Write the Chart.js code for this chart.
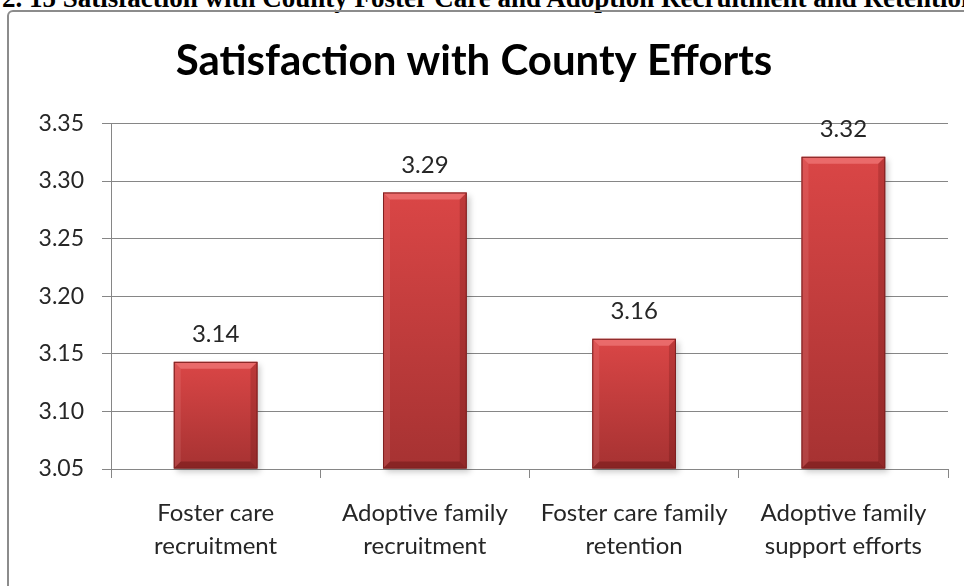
<!DOCTYPE html>
<html>
<head>
<meta charset="utf-8">
<script src="https://cdn.jsdelivr.net/npm/chart.js@4.4.0/dist/chart.umd.min.js"></script>
<style>
  html, body { margin: 0; padding: 0; background: #fff; width: 964px; height: 586px; overflow: hidden; }
  #caption { position: absolute; left: 2px; top: -15px; font: bold 27px "Liberation Serif", "Times New Roman", serif; line-height: 1; white-space: nowrap; color: #000; }
  #frame { position: absolute; left: 7px; top: 10px; width: 990px; height: 620px; border: 2px solid #8c8c8c; border-radius: 6px; box-sizing: border-box; }
  #wrap { position: absolute; left: 0; top: 0; width: 964px; height: 586px; }
</style>
</head>
<body>
<div id="caption">2. 15 Satisfaction with County Foster Care and Adoption Recruitment and Retention</div>
<div id="frame"></div>
<div id="wrap"><canvas id="chart" width="964" height="586"></canvas></div>
<script>
// Survey categories (two-line labels) and mean satisfaction scores
const categories = [
  ["Foster care", "recruitment"],
  ["Adoptive family", "recruitment"],
  ["Foster care family", "retention"],
  ["Adoptive family", "support efforts"]
];
const satisfaction = [3.143, 3.290, 3.163, 3.321];
const axisMin = 3.05;
const axisMax = 3.35;
const axisStep = 0.05;
const chartTitle = "Satisfaction with County Efforts";

const FONT = "Lato, 'Open Sans', sans-serif";

// Vertical red gradient per bar, lighter at the top
function barFill(ctx) {
  const chart = ctx.chart;
  const y = chart.scales.y;
  if (!y || ctx.raw === undefined) return '#c43c3c';
  const top = y.getPixelForValue(ctx.raw);
  const bottom = y.getPixelForValue(axisMin);
  if (!isFinite(top) || !isFinite(bottom) || bottom <= top) return '#c43c3c';
  const g = chart.ctx.createLinearGradient(0, top, 0, bottom);
  g.addColorStop(0, '#da4646');
  g.addColorStop(1, '#a63232');
  return g;
}

// Soft shadow behind bars and a bevelled edge on top of them
const bevelPlugin = {
  id: 'bevel',
  beforeDatasetsDraw(chart) {
    const ctx = chart.ctx;
    ctx.save();
    chart.getDatasetMeta(0).data.forEach(bar => {
      const l = bar.x - bar.width / 2, r = bar.x + bar.width / 2;
      ctx.shadowColor = 'rgba(0,0,0,0.35)';
      ctx.shadowBlur = 6;
      ctx.shadowOffsetX = 3;
      ctx.shadowOffsetY = 3;
      ctx.fillStyle = 'rgba(120,120,120,0.6)';
      ctx.fillRect(l, bar.y, r - l, bar.base - bar.y);
    });
    ctx.restore();
  },
  afterDatasetsDraw(chart) {
    const ctx = chart.ctx;
    const b = 7;
    ctx.save();
    chart.getDatasetMeta(0).data.forEach(bar => {
      const l = bar.x - bar.width / 2, r = bar.x + bar.width / 2;
      const t = bar.y, btm = bar.base;
      const face = (pts, col) => {
        ctx.beginPath();
        ctx.moveTo(pts[0][0], pts[0][1]);
        for (let i = 1; i < pts.length; i++) ctx.lineTo(pts[i][0], pts[i][1]);
        ctx.closePath();
        ctx.fillStyle = col;
        ctx.fill();
      };
      face([[l, t], [r, t], [r - b, t + b], [l + b, t + b]], 'rgba(255,150,150,0.45)');
      face([[l, t], [l + b, t + b], [l + b, btm - b], [l, btm]], 'rgba(255,200,200,0.12)');
      face([[r, t], [r, btm], [r - b, btm - b], [r - b, t + b]], 'rgba(60,0,0,0.18)');
      face([[l, btm], [l + b, btm - b], [r - b, btm - b], [r, btm]], 'rgba(60,0,0,0.28)');
      ctx.strokeStyle = '#7e2020';
      ctx.lineWidth = 1;
      ctx.strokeRect(l + 0.5, t + 0.5, r - l - 1, btm - t - 1);
    });
    ctx.restore();
  }
};

// Value labels above each bar
const valueLabels = {
  id: 'valueLabels',
  afterDatasetsDraw(chart) {
    const ctx = chart.ctx;
    const ds = chart.data.datasets[0];
    ctx.save();
    ctx.font = "24px " + FONT;
    ctx.fillStyle = '#262626';
    ctx.textAlign = 'center';
    ctx.textBaseline = 'alphabetic';
    chart.getDatasetMeta(0).data.forEach((bar, i) => {
      ctx.fillText(ds.data[i].toFixed(2), bar.x, bar.y - 20);
    });
    ctx.restore();
  }
};

new Chart(document.getElementById('chart'), {
  type: 'bar',
  data: {
    labels: categories,
    datasets: [{
      data: satisfaction,
      base: axisMin,
      backgroundColor: barFill,
      borderWidth: 0,
      barPercentage: 0.8,
      categoryPercentage: 0.5
    }]
  },
  options: {
    responsive: false,
    animation: false,
    layout: { padding: { left: 0, right: 16, top: 0, bottom: 0 } },
    plugins: {
      legend: { display: false },
      tooltip: { enabled: false },
      title: {
        display: true,
        text: chartTitle,
        color: '#000',
        font: { family: FONT, size: 42, weight: 'bold', lineHeight: 1.2 },
        padding: { top: 36, bottom: 37 }
      }
    },
    scales: {
      x: {
        offset: true,
        grid: {
          display: true,
          drawOnChartArea: false,
          drawTicks: true,
          tickLength: 9,
          offset: true,
          color: '#868686'
        },
        border: { display: true, color: '#868686', width: 1 },
        ticks: {
          color: '#262626',
          font: { family: FONT, size: 24, lineHeight: 1.4 },
          padding: 18,
          maxRotation: 0,
          autoSkip: false
        },
        afterFit(scale) { scale.height = 117; }
      },
      y: {
        min: axisMin,
        max: axisMax,
        grid: { color: '#868686', tickLength: 9, drawTicks: true },
        border: { display: true, color: '#868686', width: 1 },
        ticks: {
          stepSize: axisStep,
          color: '#262626',
          font: { family: FONT, size: 23 },
          padding: 18,
          callback: v => Number(v).toFixed(2)
        },
        afterFit(scale) { scale.width = 111; }
      }
    }
  },
  plugins: [bevelPlugin, valueLabels]
});
</script>
</body>
</html>
